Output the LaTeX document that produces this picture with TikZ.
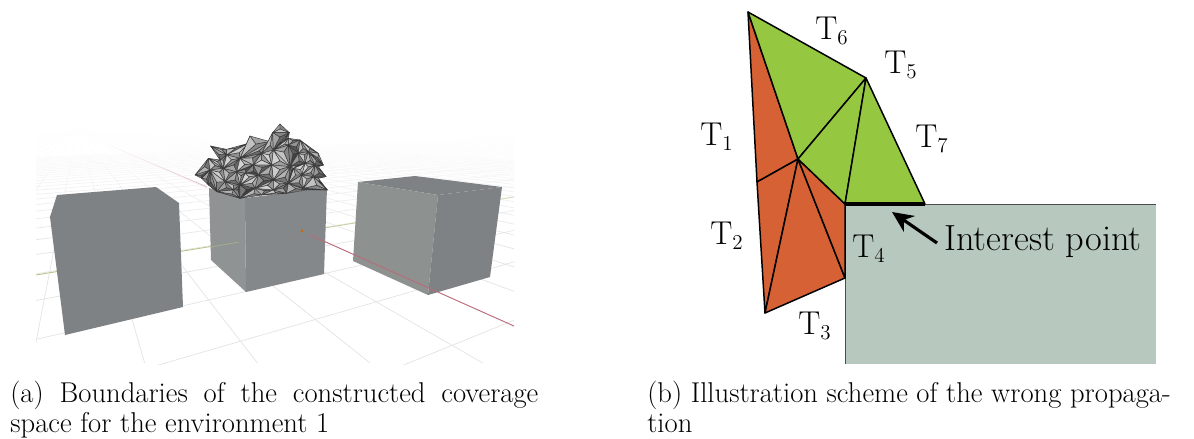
\documentclass[tikz,border=0pt]{standalone}
\usepackage{amsmath,fontspec}
\usetikzlibrary{arrows.meta,fadings}
\definecolor{cubeA}{HTML}{7F8284}
\definecolor{cubeB}{HTML}{8F9393}
\definecolor{cubeC}{HTML}{85888A}
\definecolor{cubeD}{HTML}{8D9190}
\definecolor{triorange}{HTML}{D66135}
\definecolor{trigreen}{HTML}{95C840}
\definecolor{obstacle}{HTML}{B7C8BE}
\definecolor{redaxis}{HTML}{BC6A78}
\definecolor{greenaxis}{HTML}{B9C48A}
\tikzset{>=Stealth,gridline/.style={black!11,line width=.4pt},axisred/.style={redaxis,line width=.5pt},axisgreen/.style={greenaxis,line width=.5pt},
meshtri/.style={draw=black!80,line width=.25pt,line join=round},tri/.style={draw=black,line width=.85pt,line join=round},
lab/.style={font=\fontsize{18.8}{20}\selectfont,inner sep=0pt},captext/.style={font=\fontsize{16.3}{18}\selectfont,inner sep=0pt,anchor=base west}}
\begin{document}
\begin{tikzpicture}[x=.02cm,y=-.02cm]
\useasboundingbox (0,0) rectangle (1194,439);
% floor grid
\begin{scope}
\clip (36,130) rectangle (514,364);
\foreach \k in {-14,...,30}{\pgfmathsetmacro{\xk}{32+112.7*\k}\draw[gridline] (77,130)--(\xk,363);}
\foreach \m in {-5,...,28}{\pgfmathsetmacro{\ya}{131+1/(.007+.0011*\m)}\pgfmathsetmacro{\yb}{115+(\ya-115)*.5142}\draw[gridline] (36,\ya)--(514,\yb);}
\draw[axisgreen] (36,275)--(514,197);
\draw[axisred] (90,137)--(207,187);
\fill[white,path fading=south] (36,128) rectangle (514,250);
\fill[white,path fading=south] (36,128) rectangle (514,190);
\end{scope}
% cubes
\fill[cubeA] (57,195)--(156,187)--(179,203)--(183,307)--(65,335)--(50,217)--cycle;
\fill[cubeB] (209,188)--(245,198)--(246,292)--(211,260)--cycle;
\fill[cubeC] (245,198)--(327,188)--(324,274)--(246,292)--cycle;
\fill[cubeA] (358,182)--(415,176)--(502,187)--(438,195)--cycle;
\fill[cubeD] (358,182)--(438,195)--(428,295)--(353,261)--cycle;
\fill[cubeA] (438,195)--(502,187)--(490,277)--(428,295)--cycle;
\draw[axisgreen,opacity=.5] (211,247)--(239,242);
\draw[axisred] (310,235)--(514,326);
\fill[orange!80!black] (302,231) circle(1.5);
% boundary mesh
\begin{scope}[shift={(190,110)},x=.00667cm,y=-.00667cm]
\foreach \n/\px/\py in {A/15/195,B/55/145,C/90/150,D/62/108,E/110/118,F/175/100,G/180/78,H/240/95,I/248/68,J/270/42,K/298/68,L/295/85,M/330/90,N/385/130,O/400/165,P/385/170,Q/408/200,R/385/205,S/412/240,T/350/240,U/290/250,V/215/255,W/150/265,X/80/245,Y/55/225,Z/35/205,a/60/180,b/100/175,c/110/135,d/150/145,e/140/185,f/190/165,g/215/130,h/250/120,i/295/105,j/300/170,k/245/165,l/250/210,m/205/195,n/165/190,o/105/215,p/150/225,q/130/240,r/195/235,s/250/240,t/295/220,u/335/195,v/310/175,w/345/160,x/370/200,y/340/235,z/325/130,aa/355/125,bb/375/165}{\coordinate (\n) at (\px,\py);}
\foreach \a/\b/\c/\g in {A/Z/a/58,Z/Y/a/50,A/B/a/42,B/b/a/34,a/Y/X/55,a/X/o/38,a/b/o/32,b/e/o/40,B/C/b/36,C/c/b/42,D/E/c/36,D/C/c/46,E/F/c/38,F/d/c/32,c/d/b/30,b/d/e/48,d/f/e/28,F/G/d/42,G/H/d/36,H/g/d/46,d/g/f/40,H/I/g/34,I/h/g/38,I/J/K/36,I/K/h/48,K/L/h/58,L/i/h/32,L/M/i/42,M/z/i/54,M/aa/z/38,M/N/aa/34,N/O/aa/42,aa/O/bb/48,O/P/bb/58,P/Q/bb/32,bb/Q/x/52,Q/R/x/30,R/S/x/44,x/S/y/36,S/T/y/48,T/t/y/40,e/f/n/56,f/m/n/60,f/g/k/28,f/k/m/52,g/h/k/26,h/i/j/36,h/j/k/26,i/z/j/62,z/w/j/52,z/aa/w/34,aa/bb/w/40,w/bb/u/30,w/u/v/26,j/w/v/32,bb/x/u/40,u/x/y/34,u/y/t/44,v/u/t/38,j/v/t/60,j/t/l/42,k/j/l/32,k/l/m/44,m/l/r/56,m/r/p/34,n/m/p/26,e/n/p/40,e/p/o/46,o/p/q/34,o/q/X/48,q/W/X/42,q/p/W/60,p/r/W/64,r/V/W/40,r/s/V/44,r/l/s/30,l/t/s/36,s/U/V/34,s/t/U/50,t/T/U/42,t/y/T/34}{
\coordinate (mid) at (barycentric cs:\a=1,\b=1.3,\c=.8);
\pgfmathsetmacro{\gb}{\g+12}\pgfmathsetmacro{\gc}{max(\g-12,18)}
\filldraw[meshtri,fill=black!\g] (\a)--(\b)--(mid)--cycle;\filldraw[meshtri,fill=black!\gb] (\b)--(\c)--(mid)--cycle;\filldraw[meshtri,fill=black!\gc] (\c)--(\a)--(mid)--cycle;}
\end{scope}
% captions of both parts
\node[captext] (capa) at (10,402) {\makebox[300.5pt][s]{(a) Boundaries of the constructed coverage}};
\node[captext] (capa2) at (10,432) {space for the environment 1};
\node[captext] (capb) at (647,402) {(b) Illustration scheme of the wrong propaga-};
\node[captext] (capb2) at (647,432) {tion};
% obstacle and triangles
\fill[obstacle] (845,204) rectangle (1156,364);
\draw[black!70,line width=.5pt] (845,364)--(845,204)--(1156,204);
\coordinate (v1) at (748,12);\coordinate (v2) at (866,78);\coordinate (v3) at (798,159);\coordinate (v4) at (757,182);
\coordinate (v5) at (765,313);\coordinate (v6) at (845,278);\coordinate (v7) at (845,204);\coordinate (v8) at (925,204);
\foreach \a/\b/\c in {v1/v3/v4,v4/v3/v5,v3/v5/v6,v3/v6/v7}{\filldraw[tri,fill=triorange] (\a)--(\b)--(\c)--cycle;}
\foreach \a/\b/\c in {v1/v2/v3,v2/v3/v7,v2/v7/v8}{\filldraw[tri,fill=trigreen] (\a)--(\b)--(\c)--cycle;}
\draw[line width=2.2pt] (v7)--(v8);
\coordinate (tail) at (937,243);\coordinate (tip) at (892,212);
\draw[->,line width=1.8pt,>={Stealth[length=12pt,width=11pt]}] (tail)--(tip);
\node[lab] (t1) at (717,137) {$\mathrm{T}_1$};
\node[lab] (t2) at (727,236) {$\mathrm{T}_2$};
\node[lab] (t3) at (815,326) {$\mathrm{T}_3$};
\node[lab] (t4) at (869,249) {$\mathrm{T}_4$};
\node[lab] (t5) at (901,65) {$\mathrm{T}_5$};
\node[lab] (t6) at (832,31) {$\mathrm{T}_6$};
\node[lab] (t7) at (932,139) {$\mathrm{T}_7$};
\node[lab,font=\fontsize{20.7}{22}\selectfont] (ip) at (1043,242) {Interest point};
\end{tikzpicture}
\end{document}
